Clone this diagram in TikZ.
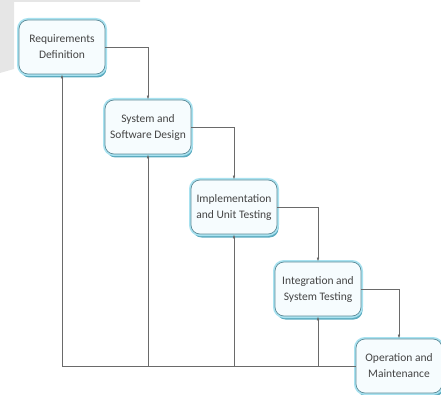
\documentclass[tikz,border=0pt]{standalone}
\usepackage{fontspec}
\setmainfont{Carlito}
\definecolor{boxedge}{HTML}{5E8C99}
\definecolor{boxglow}{HTML}{A8E2F0}
\definecolor{boxshade}{HTML}{3F9CB4}
\definecolor{boxfill}{HTML}{F6FCFE}
\definecolor{flowline}{HTML}{6A6A6A}
\definecolor{boxtext}{HTML}{444444}
\definecolor{pagegray}{HTML}{E6E6E6}
\usetikzlibrary{positioning,arrows.meta,shadows}

\begin{document}
\begin{tikzpicture}[
      x=1pt, y=-1pt,
      phase/.style={rectangle, draw=boxedge, line width=0.7pt, rounded corners=9pt,
                    fill=boxfill, minimum width=86pt, minimum height=54pt,
                    align=center, inner sep=2pt, text=boxtext,
                    font=\fontsize{11.5}{16}\selectfont,
                    drop shadow={shadow xshift=1.5pt, shadow yshift=-3.5pt, fill=boxshade, opacity=0.85},
                    preaction={draw=boxglow, line width=4pt}},
      flow/.style={draw=flowline, line width=0.6pt},
      tip/.style={-{Latex[length=4pt,width=2.6pt]}},
    ]
    \useasboundingbox (0,0) rectangle (441,395);
    \fill[pagegray] (0,0) -- (140,0) -- (140,2) -- (14,2) -- (14,69) -- (0,73) -- cycle;

    \node[phase] (req) at (62,47) {Requirements\\Definition};
    \node[phase] (des) at (148,127) {System and\\Software Design};
    \node[phase] (imp) at (234,207) {Implementation\\and Unit Testing};
    \node[phase] (tst) at (318,289) {Integration and\\System Testing};
    \node[phase] (ops) at (399,366) {Operation and\\Maintenance};

    % feedback corner points on the bottom line
    \coordinate (back) at (req.south |- ops.west);

    % downward flow
    \draw[flow, tip] (req.east) -| (des.north);
    \draw[flow, tip] (des.east) -| (imp.north);
    \draw[flow, tip] (imp.east) -| (tst.north);
    \draw[flow, tip] (tst.east) -| (ops.north);

    % feedback
    \draw[flow, tip] (ops.west) -- (back) -- (req.south);
    \draw[flow, tip] (des.south |- back) -- (des.south);
    \draw[flow, tip] (imp.south |- back) -- (imp.south);
    \draw[flow, tip] (tst.south |- back) -- (tst.south);
  \end{tikzpicture}
\end{document}
